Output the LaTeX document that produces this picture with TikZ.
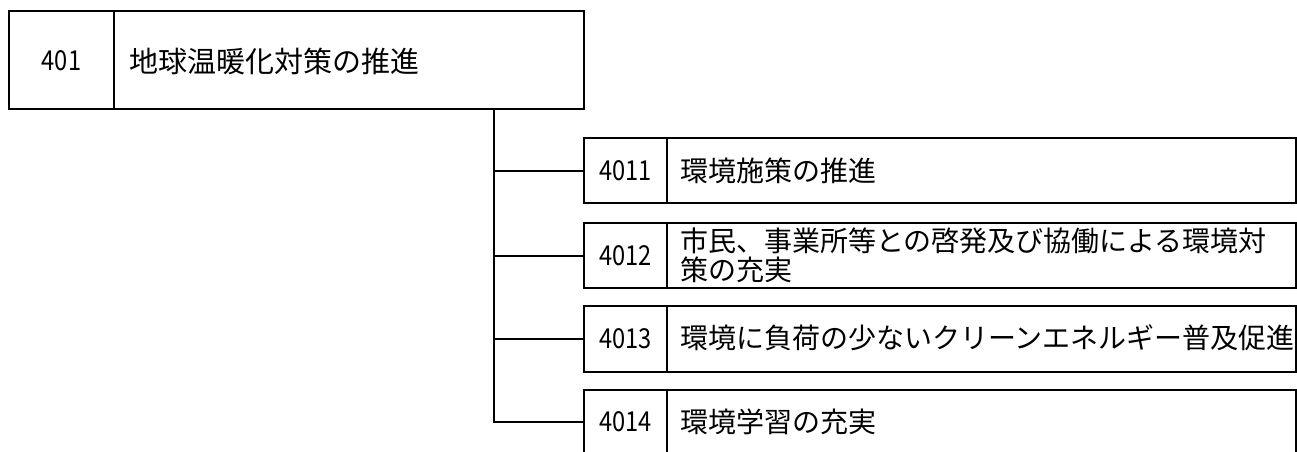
\documentclass[tikz,border=0pt]{standalone}
\usepackage{fontspec}
\usepackage{graphicx}
\setmainfont{Noto Sans CJK JP}
\newcommand\narrownum[1]{\scalebox{0.86}[1]{#1}}
\begin{document}
\begin{tikzpicture}[x=1pt,y=-1pt, line width=2pt,
  frame/.style={draw, rectangle, inner sep=0pt, outer sep=0pt, anchor=north west},
  topframe/.style={frame, minimum width=575pt, minimum height=98pt},
  subframe/.style={frame, minimum width=712pt},
  num/.style={font=\fontsize{27.5}{29}\selectfont, inner sep=0pt},
  label/.style={font=\fontsize{28}{29}\selectfont, inner sep=0pt, anchor=west, align=left},
  toplabel/.style={label, font=\fontsize{29}{30}\selectfont}]
\useasboundingbox (0,0) rectangle (1297,451);
% top box
\node[topframe] (top) at (9,11) {};
\draw ([xshift=105pt]top.north west) -- ([xshift=105pt]top.south west);
\node[num] (n401) at (61.5,61) {\narrownum{401}};
\node[toplabel] (t401) at (128,61) {地球温暖化対策の推進};
% child boxes
\node[subframe, minimum height=65pt] (c1) at (584,138) {};
\node[subframe, minimum height=65pt] (c2) at (584,223) {};
\node[subframe, minimum height=66pt] (c3) at (584,306) {};
\node[subframe, minimum height=64pt] (c4) at (584,390) {};
\foreach \c in {c1,c2,c3,c4}{
  \draw ([xshift=83pt]\c.north west) -- ([xshift=83pt]\c.south west);
}
\node[num] (n1) at (625.5,171) {\narrownum{4011}};
\node[label] (t1) at (679,171) {環境施策の推進};
\node[num] (n2) at (625.5,256) {\narrownum{4012}};
\node[label] (t2) at (679,255) {市民、事業所等との啓発及び協働による環境対\\策の充実};
\node[num] (n3) at (625.5,339) {\narrownum{4013}};
\node[label] (t3) at (679,338) {環境に負荷の少ないクリーンエネルギー普及促進};
\node[num] (n4) at (625.5,422) {\narrownum{4014}};
\node[label] (t4) at (679,422) {環境学習の充実};
% connectors
\coordinate (tr) at (494,109);
\draw (tr) -- (tr |- c4.west) -- (c4.west);
\draw (tr |- c1.west) -- (c1.west);
\draw (tr |- c2.west) -- (c2.west);
\draw (tr |- c3.west) -- (c3.west);
\end{tikzpicture}
\end{document}
